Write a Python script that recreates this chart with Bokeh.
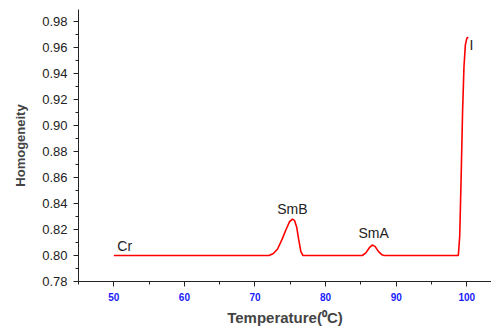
from bokeh.plotting import figure
from bokeh.models import Range1d, SingleIntervalTicker, PrintfTickFormatter, Label
from bokeh.embed import file_html
from bokeh.resources import INLINE

temperature = [50.0, 72.0, 72.6, 73.2, 73.8, 74.4, 74.9, 75.3, 75.6, 75.9, 76.2, 76.5, 76.8,
               85.2, 85.7, 86.2, 86.6, 87.0, 87.5, 88.0, 88.3,
               98.8, 99.0, 99.2, 99.4, 99.6, 99.8, 100.0, 100.2]
homogeneity = [0.800, 0.800, 0.8015, 0.805, 0.812, 0.820, 0.826, 0.828, 0.827, 0.822, 0.812, 0.803, 0.800,
               0.800, 0.802, 0.806, 0.808, 0.807, 0.803, 0.8005, 0.800,
               0.800, 0.815, 0.860, 0.910, 0.945, 0.962, 0.967, 0.968]
phase_names = ["Cr", "SmB", "SmA", "I"]
phase_x = [50.5, 75.3, 86.8, 100.4]
phase_y = [0.8012, 0.8296, 0.8108, 0.962]

FONT = "Liberation Sans"
p = figure(width=491, height=328, output_backend="svg", toolbar_location=None,
           x_range=Range1d(45, 103.5), y_range=Range1d(0.78, 0.9892),
           min_border_left=78, min_border_right=0, min_border_top=9, min_border_bottom=45)
p.outline_line_color = None
p.xgrid.grid_line_color = None
p.ygrid.grid_line_color = None

p.line(temperature, homogeneity, line_color="red", line_width=1.6)

for name, x, y in zip(phase_names, phase_x, phase_y):
    p.add_layout(Label(x=x, y=y, text=name, text_font=FONT, text_font_size="14px",
                       text_color="#222222",
                       text_align="left" if name in ("Cr", "I") else "center",
                       text_baseline="bottom" if name != "I" else "middle"))

xa = p.xaxis[0]
xa.ticker = SingleIntervalTicker(interval=10, num_minor_ticks=2)
xa.axis_label = "Temperature(⁰C)"
xa.axis_label_text_font = FONT
xa.axis_label_text_font_style = "bold"
xa.axis_label_text_font_size = "15px"
xa.axis_label_standoff = 5
xa.major_label_text_font = FONT
xa.major_label_text_font_style = "bold"
xa.major_label_text_font_size = "10px"
xa.major_label_text_color = "#1a1aff"
xa.major_label_standoff = 6
xa.major_tick_out = 5
xa.major_tick_in = 0
xa.minor_tick_out = 3
xa.minor_tick_in = 0
xa.axis_line_color = "#222222"
xa.major_tick_line_color = "#222222"
xa.minor_tick_line_color = "#222222"

ya = p.yaxis[0]
ya.ticker = SingleIntervalTicker(interval=0.02, num_minor_ticks=2)
ya.formatter = PrintfTickFormatter(format="%.2f")
ya.axis_label = "Homogeneity"
ya.axis_label_text_font = FONT
ya.axis_label_text_font_style = "bold"
ya.axis_label_text_font_size = "13px"
ya.axis_label_standoff = 11
ya.major_label_text_font = FONT
ya.major_label_text_font_size = "13px"
ya.major_label_text_color = "#222222"
ya.major_label_standoff = 6
ya.major_tick_out = 5
ya.major_tick_in = 0
ya.minor_tick_out = 3
ya.minor_tick_in = 0
ya.axis_line_color = "#222222"
ya.major_tick_line_color = "#222222"
ya.minor_tick_line_color = "#222222"

open("out.html", "w").write(file_html(p, INLINE))
